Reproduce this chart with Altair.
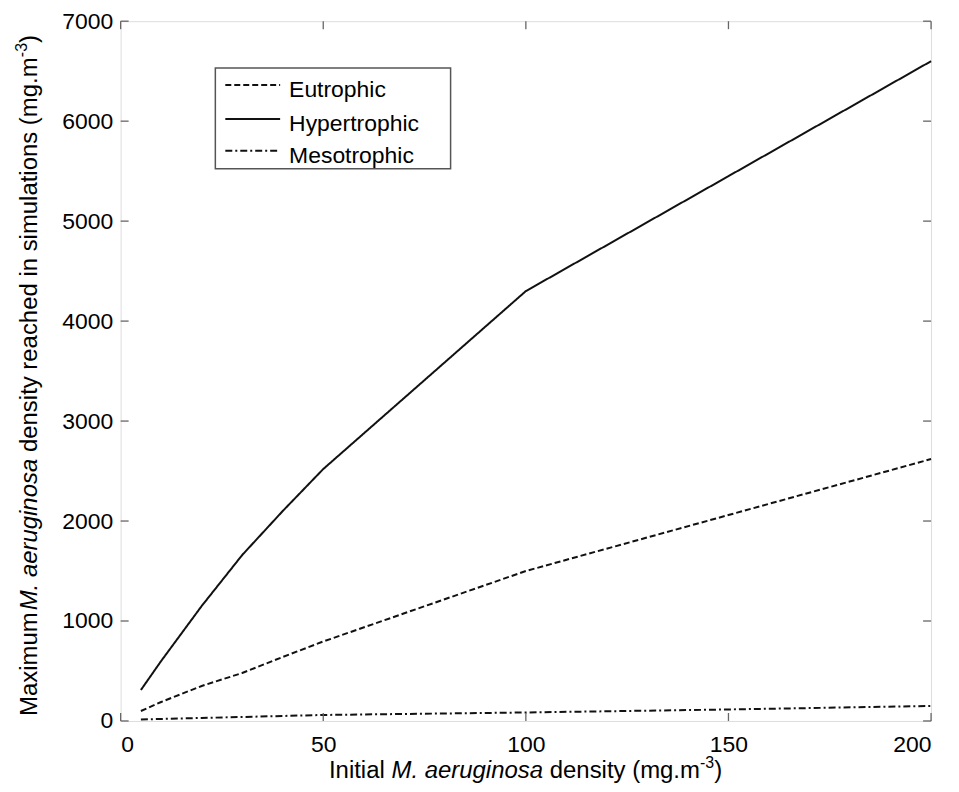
import altair as alt
import pandas as pd

# ---- data ----
x_vals = [5, 10, 20, 30, 40, 50, 100, 150, 200]
hypertrophic = [310, 600, 1150, 1660, 2100, 2520, 4300, 5450, 6600]
eutrophic = [100, 190, 350, 480, 640, 795, 1500, 2060, 2620]
mesotrophic = [15, 20, 30, 40, 50, 60, 85, 115, 150]

series_names = ["Eutrophic", "Hypertrophic", "Mesotrophic"]
x_ticks = [0, 50, 100, 150, 200]
y_ticks = [0, 1000, 2000, 3000, 4000, 5000, 6000, 7000]

rows = []
for name, vals in zip(series_names, [eutrophic, hypertrophic, mesotrophic]):
    for xv, yv in zip(x_vals, vals):
        rows.append({"x": xv, "y": yv, "series": name})
df = pd.DataFrame(rows)

W, H = 813, 702
FONT = "Liberation Sans"
TFS = 24
GRAY = "#666666"
INK = "#111111"

xscale = alt.Scale(domain=[0, 200], nice=False, zero=False)
yscale = alt.Scale(domain=[0, 7000], nice=False)
dash_scale = alt.Scale(domain=series_names, range=[[6, 3], [1, 0], [7, 3, 2, 3]])

lines = alt.Chart(df).mark_line(strokeWidth=2, color=INK).encode(
    x=alt.X("x:Q", scale=xscale,
            axis=alt.Axis(values=x_ticks, format="d", title=None, ticks=False, domain=False,
                          grid=False, labelFontSize=23, labelPadding=13, labelColor="black",
                          labelFont=FONT)),
    y=alt.Y("y:Q", scale=yscale,
            axis=alt.Axis(values=y_ticks, format="d", title=None, ticks=False, domain=False,
                          grid=False, labelFontSize=23, labelPadding=8, labelColor="black",
                          labelFont=FONT)),
    strokeDash=alt.StrokeDash("series:N", scale=dash_scale, legend=None),
)

# inside ticks on all four sides
xt = pd.DataFrame({"v": x_ticks})
yt = pd.DataFrame({"v": y_ticks})
tick_bottom = alt.Chart(xt).mark_rule(color=GRAY, strokeWidth=1.3).encode(
    x=alt.X("v:Q", scale=xscale), y=alt.value(H), y2=alt.value(H - 8))
tick_top = alt.Chart(xt).mark_rule(color=GRAY, strokeWidth=1.3).encode(
    x=alt.X("v:Q", scale=xscale), y=alt.value(0), y2=alt.value(8))
tick_left = alt.Chart(yt).mark_rule(color=GRAY, strokeWidth=1.3).encode(
    y=alt.Y("v:Q", scale=yscale), x=alt.value(0), x2=alt.value(8))
tick_right = alt.Chart(yt).mark_rule(color=GRAY, strokeWidth=1.3).encode(
    y=alt.Y("v:Q", scale=yscale), x=alt.value(W), x2=alt.value(W - 8))


def seg(text, x, y, style="normal", size=TFS, angle=0):
    return alt.Chart(pd.DataFrame({"t": [text]})).mark_text(
        font=FONT, fontSize=size, fontStyle=style, align="left",
        baseline="alphabetic", angle=angle, color="black",
    ).encode(text="t:N", x=alt.value(x), y=alt.value(y))


# ---- legend box (drawn by hand so the rows are tight like the reference) ----
legend_box = alt.Chart(pd.DataFrame({"a": [0]})).mark_rect(
    fill="white", stroke="#555555", strokeWidth=1.5
).encode(x=alt.value(95), x2=alt.value(331), y=alt.value(47), y2=alt.value(148))

legend_layers = [legend_box]
row_y = [64, 98, 130]
for name, ry in zip(series_names, row_y):
    d = pd.DataFrame({"series": [name]})
    legend_layers.append(
        alt.Chart(d).mark_rule(strokeWidth=2, color=INK).encode(
            x=alt.value(105), x2=alt.value(160), y=alt.value(ry),
            strokeDash=alt.StrokeDash("series:N", scale=dash_scale, legend=None),
        )
    )
    legend_layers.append(seg(name, 169, ry + 12, size=23))

# ---- axis titles with mixed italic / superscript segments ----
xb = 759
xtitle = [
    seg("Initial", 209, xb),
    seg("M. aeruginosa", 271.7, xb, "italic"),
    seg("density (mg.m", 430.5, xb),
    seg("-3", 581.2, xb - 10, size=16),
    seg(")", 595.4, xb),
]

yx = -84
ytitle = [
    seg("Maximum", yx, 697, angle=270),
    seg("M. aeruginosa", yx, 591, "italic", angle=270),
    seg("density reached in simulations (mg.m", yx, 432.2, angle=270),
    seg("-3", yx - 10, 36.1, size=16, angle=270),
    seg(")", yx, 21.9, angle=270),
]

chart = alt.layer(
    lines, tick_bottom, tick_top, tick_left, tick_right,
    *legend_layers, *xtitle, *ytitle
).properties(
    width=W, height=H,
    autosize=alt.AutoSizeParams(type="none"),
    padding={"left": 113, "top": 12, "right": 20, "bottom": 62},
).configure_view(
    stroke=GRAY, strokeWidth=1.5
).configure(background="white")

chart.save("out.html", embed_options={"renderer": "svg", "actions": False})
